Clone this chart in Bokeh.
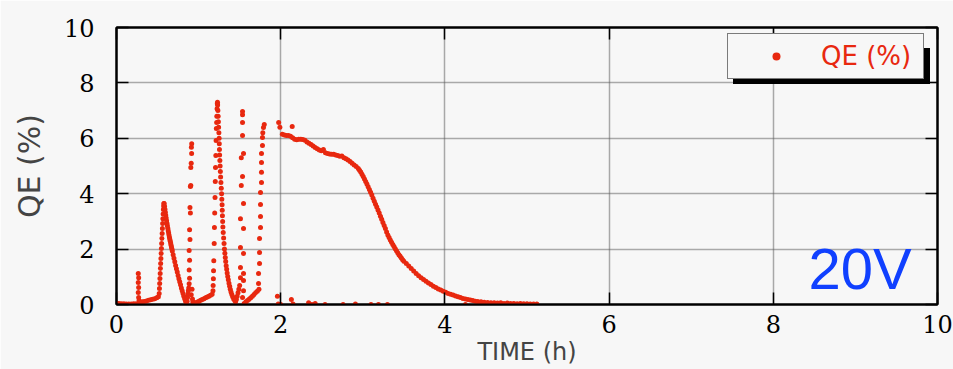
from bokeh.plotting import figure
from bokeh.models import (ColumnDataSource, FixedTicker, LinearAxis, Legend,
                          LegendItem, Label, Range1d)
from bokeh.embed import file_html
from bokeh.resources import INLINE

# ---------------- data ----------------
base_t = [0.00, 0.03, 0.06, 0.09, 0.12, 0.15, 0.18, 0.21, 0.24]
base_q = [0.05, 0.04, 0.03, 0.03, 0.02, 0.02, 0.02, 0.03, 0.03]

sp1_t = [0.265, 0.27, 0.265, 0.27, 0.265, 0.27, 0.275, 0.28]
sp1_q = [1.12, 0.97, 0.79, 0.61, 0.43, 0.25, 0.14, 0.06]

r1_t = [0.29, 0.315, 0.34, 0.365, 0.39, 0.415, 0.44, 0.465, 0.49, 0.51]
r1_q = [0.08, 0.10, 0.11, 0.13, 0.15, 0.17, 0.19, 0.21, 0.24, 0.28]

rs2_t = [0.52, 0.523, 0.526, 0.529, 0.532, 0.535, 0.538, 0.541, 0.544, 0.547,
         0.55, 0.553, 0.556, 0.559, 0.562, 0.565, 0.568, 0.571, 0.574, 0.577]
rs2_q = [0.40, 0.58, 0.76, 0.94, 1.12, 1.30, 1.48, 1.66, 1.84, 2.02,
         2.20, 2.38, 2.56, 2.74, 2.92, 3.10, 3.27, 3.43, 3.56, 3.65]

dc2_t = [0.580, 0.585, 0.590, 0.595, 0.600, 0.605, 0.610, 0.615, 0.620, 0.625,
         0.630, 0.635, 0.640, 0.645, 0.650, 0.655, 0.660, 0.665, 0.670, 0.675,
         0.680, 0.69, 0.70, 0.71, 0.72, 0.73, 0.74, 0.75, 0.76, 0.77,
         0.78, 0.79, 0.80, 0.81, 0.82, 0.83, 0.84, 0.85]
dc2_q = [3.65, 3.55, 3.44, 3.33, 3.22, 3.12, 3.02, 2.93, 2.84, 2.75,
         2.66, 2.58, 2.50, 2.42, 2.35, 2.28, 2.21, 2.14, 2.07, 2.00,
         1.93, 1.80, 1.67, 1.54, 1.41, 1.29, 1.17, 1.05, 0.93, 0.82,
         0.71, 0.60, 0.50, 0.40, 0.30, 0.21, 0.13, 0.06]

pre3_t = [0.86, 0.865, 0.87, 0.875, 0.88]
pre3_q = [0.12, 0.25, 0.38, 0.50, 0.60]

sp3_t = [0.885, 0.89, 0.885, 0.89, 0.885, 0.895, 0.89, 0.90, 0.895, 0.90, 0.905,
         0.905, 0.91, 0.915, 0.912, 0.916, 0.92, 0.91, 0.925, 0.93, 0.935, 0.938]
sp3_q = [0.75, 0.95, 1.25, 1.60, 1.95, 2.35, 2.70, 3.30, 3.50, 4.26, 4.30,
         4.95, 5.10, 5.45, 5.68, 5.80, 0.55, 0.35, 0.20, 0.10, 0.05, 0.02]

r3_t = [0.945, 0.965, 0.985, 1.005, 1.025, 1.045, 1.065, 1.085, 1.105, 1.125, 1.145, 1.165]
r3_q = [0.03, 0.06, 0.09, 0.12, 0.15, 0.18, 0.21, 0.24, 0.27, 0.30, 0.33, 0.37]

rs4_t = [1.175, 1.177, 1.18, 1.182, 1.185, 1.19, 1.193, 1.196, 1.20, 1.203,
         1.206, 1.21, 1.213, 1.216, 1.22, 1.222, 1.225, 1.228, 1.23]
rs4_q = [0.50, 0.69, 0.93, 1.22, 1.58, 2.20, 2.78, 3.30, 3.86, 4.44,
         4.95, 5.38, 5.92, 6.35, 6.57, 6.80, 7.07, 7.25, 7.30]

dc4_t = [1.232, 1.235, 1.238, 1.241, 1.244, 1.247, 1.250, 1.252, 1.254, 1.256,
         1.259, 1.262, 1.265, 1.268, 1.272, 1.276, 1.280, 1.283, 1.286, 1.288,
         1.290, 1.293, 1.296, 1.300, 1.305, 1.310, 1.315, 1.320, 1.325, 1.330,
         1.336, 1.342, 1.348, 1.355, 1.362, 1.370, 1.378, 1.386, 1.395, 1.405,
         1.415, 1.427, 1.440, 1.450]
dc4_q = [7.20, 7.00, 6.80, 6.60, 6.40, 6.20, 6.00, 5.80, 5.60, 5.40,
         5.20, 5.00, 4.80, 4.60, 4.40, 4.20, 4.00, 3.80, 3.60, 3.40,
         3.20, 3.00, 2.80, 2.60, 2.40, 2.20, 2.00, 1.85, 1.70, 1.55,
         1.40, 1.27, 1.14, 1.01, 0.89, 0.77, 0.66, 0.55, 0.45, 0.36,
         0.28, 0.20, 0.14, 0.10]

pre5_t = [1.46, 1.47, 1.48, 1.49]
pre5_q = [0.18, 0.30, 0.42, 0.55]

sp5_t = [1.50, 1.535, 1.547, 1.51, 1.547, 1.547, 1.51, 1.547, 1.51, 1.547,
         1.51, 1.547, 1.52, 1.535, 1.52, 1.547, 1.535, 1.535, 1.535, 1.535]
sp5_q = [0.69, 0.25, 0.50, 0.97, 0.87, 1.12, 1.34, 1.84, 2.06, 2.74,
         3.10, 3.65, 4.30, 4.62, 5.30, 5.45, 6.10, 6.57, 6.85, 6.97]

r5_t = [1.555, 1.575, 1.595, 1.615, 1.635, 1.655, 1.675, 1.695, 1.715, 1.735]
r5_q = [0.04, 0.09, 0.14, 0.19, 0.24, 0.30, 0.36, 0.42, 0.48, 0.55]

sp6_t = [1.73, 1.73, 1.742, 1.742, 1.742, 1.754, 1.754, 1.754, 1.754,
         1.766, 1.766, 1.766, 1.766, 1.778, 1.778, 1.782, 1.79, 1.80]
sp6_q = [0.76, 1.12, 1.48, 1.88, 2.38, 2.78, 3.18, 3.61, 4.04,
         4.40, 4.77, 5.13, 5.45, 5.74, 6.03, 6.20, 6.39, 6.50]

main_t = [1.975, 1.99, 2.14,
          2.02, 2.045, 2.07, 2.095, 2.12, 2.145, 2.17, 2.195, 2.22, 2.245,
          2.27, 2.295, 2.32, 2.345, 2.37, 2.395, 2.42, 2.445, 2.47, 2.495,
          2.52, 2.545, 2.57, 2.595, 2.62, 2.645, 2.67, 2.695, 2.72, 2.745,
          2.77, 2.795, 2.82, 2.845, 2.87, 2.895, 2.92, 2.945,
          2.96, 2.975, 2.99, 3.005, 3.02, 3.035, 3.05, 3.065, 3.08, 3.095,
          3.11, 3.125, 3.14, 3.155, 3.17, 3.185, 3.20, 3.215, 3.23, 3.245,
          3.26, 3.275, 3.29, 3.305, 3.32, 3.335, 3.35, 3.365, 3.38, 3.395,
          3.41, 3.425, 3.44, 3.455, 3.47, 3.485, 3.50,
          3.53, 3.56, 3.59, 3.62, 3.65, 3.68, 3.71, 3.74, 3.77, 3.80,
          3.83, 3.86, 3.89, 3.92, 3.95, 3.98, 4.01, 4.04, 4.07, 4.10,
          4.13, 4.16, 4.19, 4.22, 4.25, 4.28, 4.31, 4.34, 4.37, 4.40,
          4.44, 4.48, 4.52, 4.56, 4.60, 4.64, 4.68, 4.72, 4.76, 4.80,
          4.84, 4.88, 4.92, 4.96, 5.00, 5.04, 5.08, 5.12]
main_q = [6.57, 6.40, 6.43,
          6.15, 6.12, 6.10, 6.10, 6.07, 6.02, 5.97, 5.95, 5.97, 5.97,
          5.96, 5.93, 5.87, 5.82, 5.78, 5.72, 5.67, 5.62, 5.58, 5.55,
          5.60, 5.48, 5.45, 5.43, 5.42, 5.42, 5.40, 5.38, 5.35, 5.36,
          5.30, 5.26, 5.22, 5.16, 5.10, 5.04, 4.98, 4.91,
          4.85, 4.78, 4.70, 4.62, 4.53, 4.44, 4.35, 4.25, 4.15, 4.05,
          3.95, 3.84, 3.73, 3.62, 3.52, 3.41, 3.30, 3.19, 3.08, 2.96,
          2.85, 2.74, 2.62, 2.51, 2.42, 2.33, 2.25, 2.17, 2.09, 2.01,
          1.94, 1.87, 1.80, 1.74, 1.68, 1.62, 1.56,
          1.48, 1.39, 1.30, 1.21, 1.12, 1.04, 0.97, 0.90, 0.84, 0.78,
          0.72, 0.66, 0.61, 0.56, 0.52, 0.48, 0.44, 0.40, 0.37, 0.34,
          0.31, 0.28, 0.25, 0.22, 0.20, 0.18, 0.16, 0.14, 0.12, 0.11,
          0.10, 0.08, 0.07, 0.06, 0.06, 0.05, 0.06, 0.04, 0.05, 0.04,
          0.04, 0.03, 0.04, 0.03, 0.03, 0.02, 0.02, 0.02]

low_t = [1.96, 1.97, 2.00, 2.13, 2.15, 2.34, 2.38, 2.42, 2.54, 2.76, 2.91, 3.10, 3.19, 3.30, 4.25]
low_q = [0.30, 0.02, 0.00, 0.18, 0.02, 0.06, 0.00, 0.04, 0.00, 0.00, 0.02, 0.00, 0.00, 0.00, 0.00]

time_h = (base_t + sp1_t + r1_t + rs2_t + dc2_t + pre3_t + sp3_t + r3_t + rs4_t + dc4_t
          + pre5_t + sp5_t + r5_t + sp6_t + main_t + low_t)
qe_pct = (base_q + sp1_q + r1_q + rs2_q + dc2_q + pre3_q + sp3_q + r3_q + rs4_q + dc4_q
          + pre5_q + sp5_q + r5_q + sp6_q + main_q + low_q)

tick_values = [0, 2, 4, 6, 8, 10]
series_label = "QE (%)"
voltage_label = "20V"

# ---------------- styling ----------------
BG = "#f7f7f7"
RED = "#e8280f"
BLUE = "#1040ff"

p = figure(width=953, height=369, output_backend="svg", toolbar_location=None,
           x_range=Range1d(0, 10), y_range=Range1d(0, 10),
           min_border_left=116, min_border_right=16, min_border_top=27,
           min_border_bottom=65,
           background_fill_color=BG, border_fill_color=BG,
           outline_line_color="black", outline_line_width=2)

src = ColumnDataSource(dict(t=time_h, q=qe_pct))
r = p.scatter("t", "q", source=src, marker="circle", size=5,
              fill_color=RED, line_color=None)

ticker = FixedTicker(ticks=tick_values)


def style_axis(ax, show_labels=True):
    ax.ticker = ticker
    ax.axis_line_width = 2
    ax.axis_line_color = "black"
    ax.major_tick_in = 12
    ax.major_tick_out = 0
    ax.major_tick_line_width = 1.5
    ax.major_tick_line_color = "black"
    ax.minor_tick_in = 0
    ax.minor_tick_out = 0
    ax.minor_tick_line_color = None
    ax.major_label_text_font = "DejaVu Serif"
    ax.major_label_text_color = "black"
    if show_labels:
        ax.major_label_text_font_size = "24px"
    else:
        ax.major_label_text_font_size = "1px"
        ax.major_label_overrides = {v: "" for v in tick_values}
        ax.major_label_standoff = 0


style_axis(p.xaxis[0])
style_axis(p.yaxis[0])
p.xaxis[0].major_label_standoff = 10
p.yaxis[0].major_label_standoff = 22

p.xaxis[0].axis_label = "TIME (h)"
p.xaxis[0].axis_label_text_font = "DejaVu Sans"
p.xaxis[0].axis_label_text_font_size = "24px"
p.xaxis[0].axis_label_text_font_style = "normal"
p.xaxis[0].axis_label_standoff = 2

p.yaxis[0].axis_label = "QE (%)"
p.yaxis[0].axis_label_text_font = "DejaVu Sans"
p.yaxis[0].axis_label_text_font_size = "30px"
p.yaxis[0].axis_label_text_font_style = "normal"
p.yaxis[0].axis_label_standoff = 14

top_ax = LinearAxis()
style_axis(top_ax, show_labels=False)
right_ax = LinearAxis()
style_axis(right_ax, show_labels=False)
p.add_layout(top_ax, "above")
p.add_layout(right_ax, "right")

for g in (p.xgrid[0], p.ygrid[0]):
    g.ticker = ticker
    g.grid_line_color = "#5a5a5a"
    g.grid_line_width = 1.5
    g.grid_line_dash = "1 1"


def make_legend(shadow):
    lg = Legend(items=[LegendItem(label=" " if shadow else series_label, renderers=[r])],
                location=(617, 220) if shadow else (611, 225),
                padding=7, margin=0, spacing=0,
                glyph_width=82, glyph_height=20, label_standoff=4,
                label_width=95, label_height=20,
                label_text_font="DejaVu Sans", label_text_font_size="26px",
                label_text_color="black" if shadow else RED,
                background_fill_color="black" if shadow else BG,
                background_fill_alpha=1.0,
                border_line_color="black", border_line_width=1.5)
    return lg


p.add_layout(make_legend(True), "center")
p.add_layout(make_legend(False), "center")

p.add_layout(Label(x=8.43, y=1.30, text=voltage_label, text_font="Liberation Sans",
                   text_font_size="58px", text_color=BLUE,
                   text_baseline="alphabetic"))

open("out.html", "w").write(file_html(p, INLINE))
